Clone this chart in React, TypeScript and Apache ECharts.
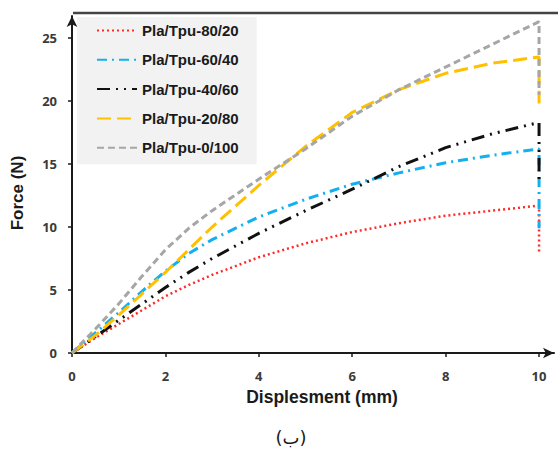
import React, { useEffect, useRef } from "react";
import * as echarts from "echarts";

const xs = [0, 0.5, 1, 1.5, 2, 2.5, 3, 4, 5, 6, 7, 8, 9, 10, 10];
const pla80 = [0, 1.2, 2.3, 3.4, 4.5, 5.4, 6.2, 7.6, 8.7, 9.6, 10.3, 10.9, 11.3, 11.7, 7.9];
const pla60 = [0, 1.6, 3.2, 4.9, 6.5, 7.9, 9.0, 10.8, 12.2, 13.4, 14.3, 15.1, 15.7, 16.2, 9.9];
const pla40 = [0, 1.3, 2.6, 3.9, 5.2, 6.4, 7.5, 9.5, 11.3, 13.0, 14.8, 16.3, 17.4, 18.3, 13.5];
const pla20 = [0, 1.4, 3.0, 4.7, 6.4, 8.2, 10.0, 13.3, 16.4, 19.1, 20.9, 22.2, 23.0, 23.5, 19.8];
const pla0 = [0, 1.9, 3.9, 6.1, 8.2, 9.9, 11.3, 13.8, 16.2, 18.8, 20.9, 22.7, 24.5, 26.3, 20.5];

const names = ["Pla/Tpu-80/20", "Pla/Tpu-60/40", "Pla/Tpu-40/60", "Pla/Tpu-20/80", "Pla/Tpu-0/100"];
const xTicks = [0, 2, 4, 6, 8, 10];
const yTicks = [0, 5, 10, 15, 20, 25];

export default function App() {
  const ref = useRef<HTMLDivElement>(null);
  useEffect(() => {
    if (!ref.current) return;
    const chart = echarts.init(ref.current, null, { renderer: "svg" });
    const mk = (ys: number[]) => xs.map((x, i) => [x, ys[i]]);
    const styles = [
      { color: "#ff2a2a", type: [2, 3], width: 2.5 },
      { color: "#12b0f0", type: [10, 5, 2, 5], width: 3 },
      { color: "#111111", type: [13, 6, 2, 6, 2, 6], width: 3 },
      { color: "#ffc000", type: [14, 6], width: 3 },
      { color: "#a6a6a6", type: [7, 4], width: 3 },
    ];
    const datas = [pla80, pla60, pla40, pla20, pla0];
    const labelFont = { fontFamily: "Open Sans", fontWeight: "bold", fontSize: 13, color: "#3a3a3a" };
    chart.setOption({
      animation: false,
      backgroundColor: "#ffffff",
      grid: { left: 72, right: 4, top: 16, bottom: 97 },
      legend: {
        orient: "vertical",
        left: 77,
        top: 17,
        padding: [6, 18, 9, 19],
        backgroundColor: "#f2f2f2",
        itemWidth: 40,
        itemHeight: 14,
        itemGap: 14.3,
        data: names,
        itemStyle: { opacity: 0 },
        textStyle: { fontFamily: "Liberation Sans", fontWeight: "bold", fontSize: 15, color: "#1a1a1a" },
      },
      xAxis: {
        type: "value",
        min: 0,
        max: 10.32,
        splitLine: { show: false },
        axisLine: { show: true, lineStyle: { color: "#1a1a1a", width: 2 }, symbol: ["none", "arrow"], symbolSize: [8, 11] },
        axisTick: { show: true, inside: false, length: 4, lineStyle: { color: "#1a1a1a", width: 1.5 }, customValues: xTicks },
        axisLabel: { ...labelFont, margin: 16, customValues: xTicks },
      },
      yAxis: {
        type: "value",
        min: 0,
        max: 26.75,
        splitLine: { show: false },
        axisLine: { show: true, lineStyle: { color: "#1a1a1a", width: 2 }, symbol: ["none", "arrow"], symbolSize: [8, 11] },
        axisTick: { show: true, inside: false, length: 4, lineStyle: { color: "#1a1a1a", width: 1.5 }, customValues: yTicks },
        axisLabel: { ...labelFont, margin: 15, customValues: yTicks },
      },
      graphic: [
        { type: "line", shape: { x1: 73, y1: 13, x2: 558, y2: 13 }, style: { stroke: "#444444", lineWidth: 2.5 }, z: 100 },
        {
          type: "text",
          x: 322,
          y: 397,
          style: { text: "Displesment (mm)", fontFamily: "Liberation Sans", fontWeight: "bold", fontSize: 17.5, fill: "#1a1a1a", align: "center", verticalAlign: "middle" },
        },
        {
          type: "text",
          x: 17,
          y: 193,
          rotation: Math.PI / 2,
          style: { text: "Force (N)", fontFamily: "Liberation Sans", fontWeight: "bold", fontSize: 17, fill: "#1a1a1a", align: "center", verticalAlign: "middle" },
        },
        {
          type: "text",
          x: 291,
          y: 437,
          style: { text: "(ب)", fontFamily: "DejaVu Sans", fontSize: 18, fill: "#1a1a1a", align: "center", verticalAlign: "middle" },
        },
      ],
      series: names.map((n, i) => ({
        name: n,
        type: "line",
        data: mk(datas[i]),
        symbol: "none",
        showSymbol: false,
        lineStyle: styles[i],
        itemStyle: { color: styles[i].color },
        z: 2 + i,
      })),
    });
    return () => chart.dispose();
  }, []);
  return <div ref={ref} style={{ width: 558, height: 450, position: "absolute", left: 0, top: 0 }} />;
}
